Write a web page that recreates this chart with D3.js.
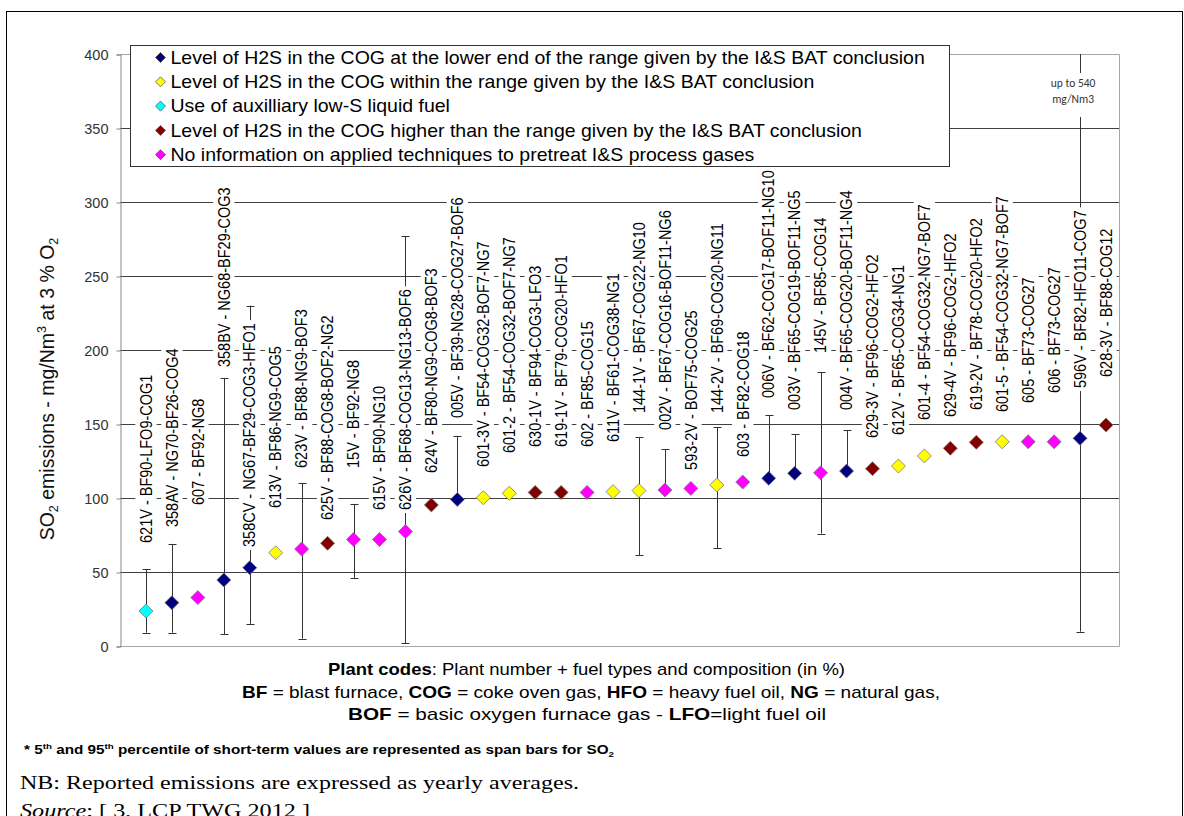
<!DOCTYPE html>
<html>
<head>
<meta charset="utf-8">
<script src="https://cdn.jsdelivr.net/npm/d3@7"></script>
<style>
  body { margin: 0; background: #fff; }
  svg { display: block; font-family: Arial, "Liberation Sans", sans-serif; }
</style>
</head>
<body>
<script>
// plant codes, left to right
const codes = [
  "621V - BF90-LFO9-COG1", "358AV - NG70-BF26-COG4", "607 - BF92-NG8", "358BV - NG68-BF29-COG3",
  "358CV - NG67-BF29-COG3-HFO1", "613V - BF86-NG9-COG5", "623V - BF88-NG9-BOF3", "625V - BF88-COG8-BOF2-NG2",
  "15V - BF92-NG8", "615V - BF90-NG10", "626V - BF68-COG13-NG13-BOF6", "624V - BF80-NG9-COG8-BOF3",
  "005V - BF39-NG28-COG27-BOF6", "601-3V - BF54-COG32-BOF7-NG7", "601-2 - BF54-COG32-BOF7-NG7", "630-1V - BF94-COG3-LFO3",
  "619-1V - BF79-COG20-HFO1", "602 - BF85-COG15", "611V - BF61-COG38-NG1", "144-1V - BF67-COG22-NG10",
  "002V - BF67-COG16-BOF11-NG6", "593-2V - BOF75-COG25", "144-2V - BF69-COG20-NG11", "603 - BF82-COG18",
  "006V - BF62-COG17-BOF11-NG10", "003V - BF65-COG19-BOF11-NG5", "145V - BF85-COG14", "004V - BF65-COG20-BOF11-NG4",
  "629-3V - BF96-COG2-HFO2", "612V - BF65-COG34-NG1", "601-4 - BF54-COG32-NG7-BOF7", "629-4V - BF96-COG2-HFO2",
  "619-2V - BF78-COG20-HFO2", "601-5 - BF54-COG32-NG7-BOF7", "605 - BF73-COG27", "606 - BF73-COG27",
  "596V - BF82-HFO11-COG7", "628-3V - BF88-COG12"
];

// which legend group each plant is in
const groupOf = [
  "liquid", "low", "noinfo", "low", "low", "within", "noinfo", "high",
  "noinfo", "noinfo", "noinfo", "high", "low", "within", "within", "high",
  "high", "noinfo", "within", "within", "noinfo", "noinfo", "within", "noinfo",
  "low", "low", "noinfo", "low", "high", "within", "within", "high",
  "high", "within", "noinfo", "noinfo", "low", "high"
];

// yearly average SO2, mg/Nm3
const values = [
  23.6, 29.3, 32.7, 44.6, 52.9, 63, 65.5, 69.4,
  72, 72, 77.3, 95.3, 99, 100.2, 103.2, 103.8,
  103.8, 103.8, 104.3, 105, 105.4, 106.5, 108.8, 110.8,
  113.3, 116.7, 117, 118.2, 119.8, 121.6, 128.4, 133.6,
  137.6, 138, 138, 138, 140.3, 149.3
];

// 5th / 95th percentile span bars (null = none reported)
const p5 = [
  9, 9, null, 8, 15, null, 5, null,
  46, null, 2, null, 99, null, null, null,
  null, null, null, 61.5, 105.4, null, 66, null,
  113.3, 116.7, 76, 118.2, null, null, null, null,
  null, null, null, null, 9.7, null
];
const p95 = [
  52, 69, null, 181, 230, null, 110, null,
  96, null, 277, null, 142, null, null, null,
  null, null, null, 141, 133, null, 148, null,
  156, 143, 185, 146, null, null, null, null,
  null, null, null, null, 540, null
];

// value (mg/Nm3) where each rotated data label starts
const labelAt = [
  69.6, 80.4, 95.3, 188.5, 66.9, 93.2, 120.3, 85.1,
  120.3, 91.9, 91.9, 116.9, 154, 121, 130.4, 134.5,
  134.5, 134.5, 137.8, 157.4, 146, 119, 157.4, 127.7,
  167.6, 159.5, 198, 159.5, 140.5, 142.6, 152.7, 154.7,
  159.5, 158.1, 164.2, 171, 174.3, 181.8
];

const groupKeys = ["low", "within", "liquid", "high", "noinfo"];
const groupNames = [
  "Level of H2S in the COG at the lower end of the range given by the I&S BAT conclusion",
  "Level of H2S in the COG within the range given by the I&S BAT conclusion",
  "Use of auxilliary low-S liquid fuel",
  "Level of H2S in the COG higher than the range given by the I&S BAT conclusion",
  "No information on applied techniques to pretreat I&S process gases"
];
const yTicks = [0, 50, 100, 150, 200, 250, 300, 350, 400];

const width = 1184, height = 816;
const plot = {left: 120, right: 1119, top: 54, bottom: 646};
const stretch = 1.114;   // the source picture is a bit wider than its fonts

const color = d3.scaleOrdinal()
    .domain(groupKeys)
    .range(["#000080", "#ffff00", "#00ffff", "#800000", "#ff00ff"]);

const x = d3.scaleLinear().domain([0, 38.5]).range([plot.left, plot.right]);
const y = d3.scaleLinear().domain([0, 400]).range([plot.bottom, plot.top]);

const data = codes.map((c, i) => ({
    code: c, pos: i + 1, group: groupOf[i], value: values[i],
    lo: p5[i], hi: p95[i], labelAt: labelAt[i]
}));

const svg = d3.select("body").append("svg")
    .attr("width", width)
    .attr("height", height);

// outer frame
svg.append("rect")
    .attr("x", 6.5).attr("y", 11.5)
    .attr("width", 1176).attr("height", 830)
    .attr("fill", "none").attr("stroke", "#000");

svg.append("defs").append("clipPath").attr("id", "plotclip")
  .append("rect")
    .attr("x", plot.left).attr("y", plot.top)
    .attr("width", plot.right - plot.left).attr("height", plot.bottom - plot.top);

// gridlines
svg.append("g")
  .selectAll("line")
  .data(yTicks.filter(t => t > 0 && t < 400))
  .join("line")
    .attr("x1", plot.left).attr("x2", plot.right)
    .attr("y1", d => Math.round(y(d)) + 0.5).attr("y2", d => Math.round(y(d)) + 0.5)
    .attr("stroke", "#404040");

// plot border (top / right / bottom)
svg.append("path")
    .attr("d", `M${plot.left},${plot.top + 0.5}H${plot.right + 0.5}V${plot.bottom + 0.5}H${plot.left}`)
    .attr("fill", "none")
    .attr("stroke", "#a6a6a6");

// y axis
const yAxis = d3.axisLeft(y).tickValues(yTicks).tickSize(4).tickPadding(8);
const ya = svg.append("g")
    .attr("transform", `translate(${plot.left + 0.5},0.5)`)
    .call(yAxis);
ya.select(".domain").attr("stroke", "#868686");
ya.selectAll(".tick line").attr("stroke", "#868686");
ya.selectAll(".tick text")
    .attr("font-size", 14.5)
    .attr("font-family", "Arial, 'Liberation Sans', sans-serif")
    .attr("fill", "#333");

// span bars
const bars = svg.append("g").attr("clip-path", "url(#plotclip)")
  .selectAll("g")
  .data(data.filter(d => d.hi != null))
  .join("g")
    .attr("stroke", "#333")
    .attr("stroke-width", 1);
bars.append("line")
    .attr("x1", d => Math.round(x(d.pos)) + 0.5).attr("x2", d => Math.round(x(d.pos)) + 0.5)
    .attr("y1", d => y(d.lo)).attr("y2", d => y(d.hi));
bars.append("line")
    .attr("x1", d => Math.round(x(d.pos)) - 3.5).attr("x2", d => Math.round(x(d.pos)) + 4.5)
    .attr("y1", d => Math.round(y(d.hi)) + 0.5).attr("y2", d => Math.round(y(d.hi)) + 0.5);
bars.append("line")
    .attr("x1", d => Math.round(x(d.pos)) - 3.5).attr("x2", d => Math.round(x(d.pos)) + 4.5)
    .attr("y1", d => Math.round(y(d.lo)) + 0.5).attr("y2", d => Math.round(y(d.lo)) + 0.5);

// markers
const diamond = r => `M0,${-r}L${r},0L0,${r}L${-r},0Z`;
svg.append("g")
  .selectAll("path")
  .data(data)
  .join("path")
    .attr("transform", d => `translate(${x(d.pos)},${y(d.value)})`)
    .attr("d", diamond(7))
    .attr("fill", d => color(d.group))
    .attr("stroke", "#777")
    .attr("stroke-width", 0.8);

// rotated data labels with white boxes
const labels = svg.append("g")
  .selectAll("g")
  .data(data)
  .join("g")
    .attr("transform", d => `translate(${x(d.pos)},${y(d.labelAt)}) scale(1.1,1) rotate(-90)`);
const boxes = labels.append("rect").attr("fill", "#fff");
const ltext = labels.append("text")
    .attr("font-size", 14.5)
    .attr("dy", "0.36em")
    .attr("fill", "#000")
    .text(d => d.code);
ltext.each(function(d) { d.len = this.getComputedTextLength(); });
boxes
    .attr("x", -3).attr("y", -9.7)
    .attr("width", d => d.len + 6).attr("height", 19.4);

// legend
const lg = svg.append("g").attr("transform", "translate(130.5,45.5)");
lg.append("rect")
    .attr("width", 819).attr("height", 121)
    .attr("fill", "#fff").attr("stroke", "#333");
const li = lg.selectAll("g.item")
  .data(groupKeys)
  .join("g")
    .attr("class", "item")
    .attr("transform", (d, i) => `translate(30,${12 + i * 24.3})`);
li.append("path")
    .attr("d", diamond(5))
    .attr("fill", d => color(d))
    .attr("stroke", "#555")
    .attr("stroke-width", 0.8);
li.append("text")
    .attr("transform", `translate(10,0) scale(${stretch},1)`)
    .attr("dy", "0.36em")
    .attr("font-size", 17.5)
    .text((d, i) => groupNames[i]);

// off-scale note for 596V
const note = svg.append("g").attr("transform", `translate(${x(36.73)},0)`);
note.append("rect")
    .attr("x", -26).attr("y", 73).attr("width", 52).attr("height", 44)
    .attr("fill", "#fff");
note.selectAll("text")
  .data(["up to 540", "mg/Nm3"])
  .join("text")
    .attr("y", (d, i) => 87 + i * 16)
    .attr("text-anchor", "middle")
    .attr("font-family", "Carlito, Calibri, 'Open Sans', sans-serif")
    .attr("font-size", 11.5)
    .attr("fill", "#333")
    .text(d => d);

// y axis title
const yt = svg.append("text")
    .attr("transform", "translate(54,389) rotate(-90)")
    .attr("text-anchor", "middle")
    .attr("font-size", 19.5)
    .attr("fill", "#111");
yt.append("tspan").text("SO");
yt.append("tspan").attr("font-size", 12.5).attr("dy", 4).text("2");
yt.append("tspan").attr("dy", -4).text(" emissions - mg/Nm");
yt.append("tspan").attr("font-size", 12.5).attr("dy", -8).text("3");
yt.append("tspan").attr("dy", 8).text("  at 3 % O");
yt.append("tspan").attr("font-size", 12.5).attr("dy", 4).text("2");

// captions under the chart
const cap = svg.append("g").attr("font-size", 17).attr("fill", "#000");
const c1 = cap.append("text").attr("x", 328).attr("y", 675)
    .attr("textLength", 517).attr("lengthAdjust", "spacingAndGlyphs");
c1.append("tspan").attr("font-weight", "bold").text("Plant codes");
c1.append("tspan").text(": Plant number  + fuel types and composition (in %)");
const c2 = cap.append("text").attr("x", 242).attr("y", 698)
    .attr("textLength", 698).attr("lengthAdjust", "spacingAndGlyphs");
[["BF", true], [" = blast furnace,  ", false], ["COG", true], [" = coke oven gas, ", false],
 ["HFO", true], [" = heavy fuel oil, ", false], ["NG", true], [" = natural gas,", false]]
  .forEach(([t, b]) => c2.append("tspan").attr("font-weight", b ? "bold" : null).text(t));
const c3 = cap.append("text").attr("x", 348).attr("y", 720)
    .attr("textLength", 478).attr("lengthAdjust", "spacingAndGlyphs");
[["BOF", true], [" = basic oxygen furnace gas - ", false], ["LFO", true], ["=light  fuel oil", false]]
  .forEach(([t, b]) => c3.append("tspan").attr("font-weight", b ? "bold" : null).text(t));

// footnote
const fn = svg.append("text")
    .attr("x", 24).attr("y", 754)
    .attr("font-weight", "bold")
    .attr("font-size", 12.5)
    .attr("fill", "#000")
    .attr("textLength", 590).attr("lengthAdjust", "spacingAndGlyphs");
fn.append("tspan").text("* 5");
fn.append("tspan").attr("font-size", 8).attr("dy", -5).text("th");
fn.append("tspan").attr("dy", 5).text(" and 95");
fn.append("tspan").attr("font-size", 8).attr("dy", -5).text("th");
fn.append("tspan").attr("dy", 5).text(" percentile of short-term values are represented as span bars for SO");
fn.append("tspan").attr("font-size", 8).attr("dy", 3).text("2");

// notes in body text
const serif = "'Times New Roman', 'Liberation Serif', serif";
svg.append("text")
    .attr("x", 20).attr("y", 789)
    .attr("font-family", serif).attr("font-size", 19.5)
    .attr("textLength", 559).attr("lengthAdjust", "spacingAndGlyphs")
    .text("NB: Reported emissions are expressed as yearly averages.");
const src = svg.append("text")
    .attr("x", 20).attr("y", 817)
    .attr("font-family", serif).attr("font-size", 19.5)
    .attr("textLength", 290).attr("lengthAdjust", "spacingAndGlyphs");
src.append("tspan").attr("font-style", "italic").text("Source");
src.append("tspan").text(": [ 3, LCP TWG 2012 ]");
</script>
</body>
</html>
